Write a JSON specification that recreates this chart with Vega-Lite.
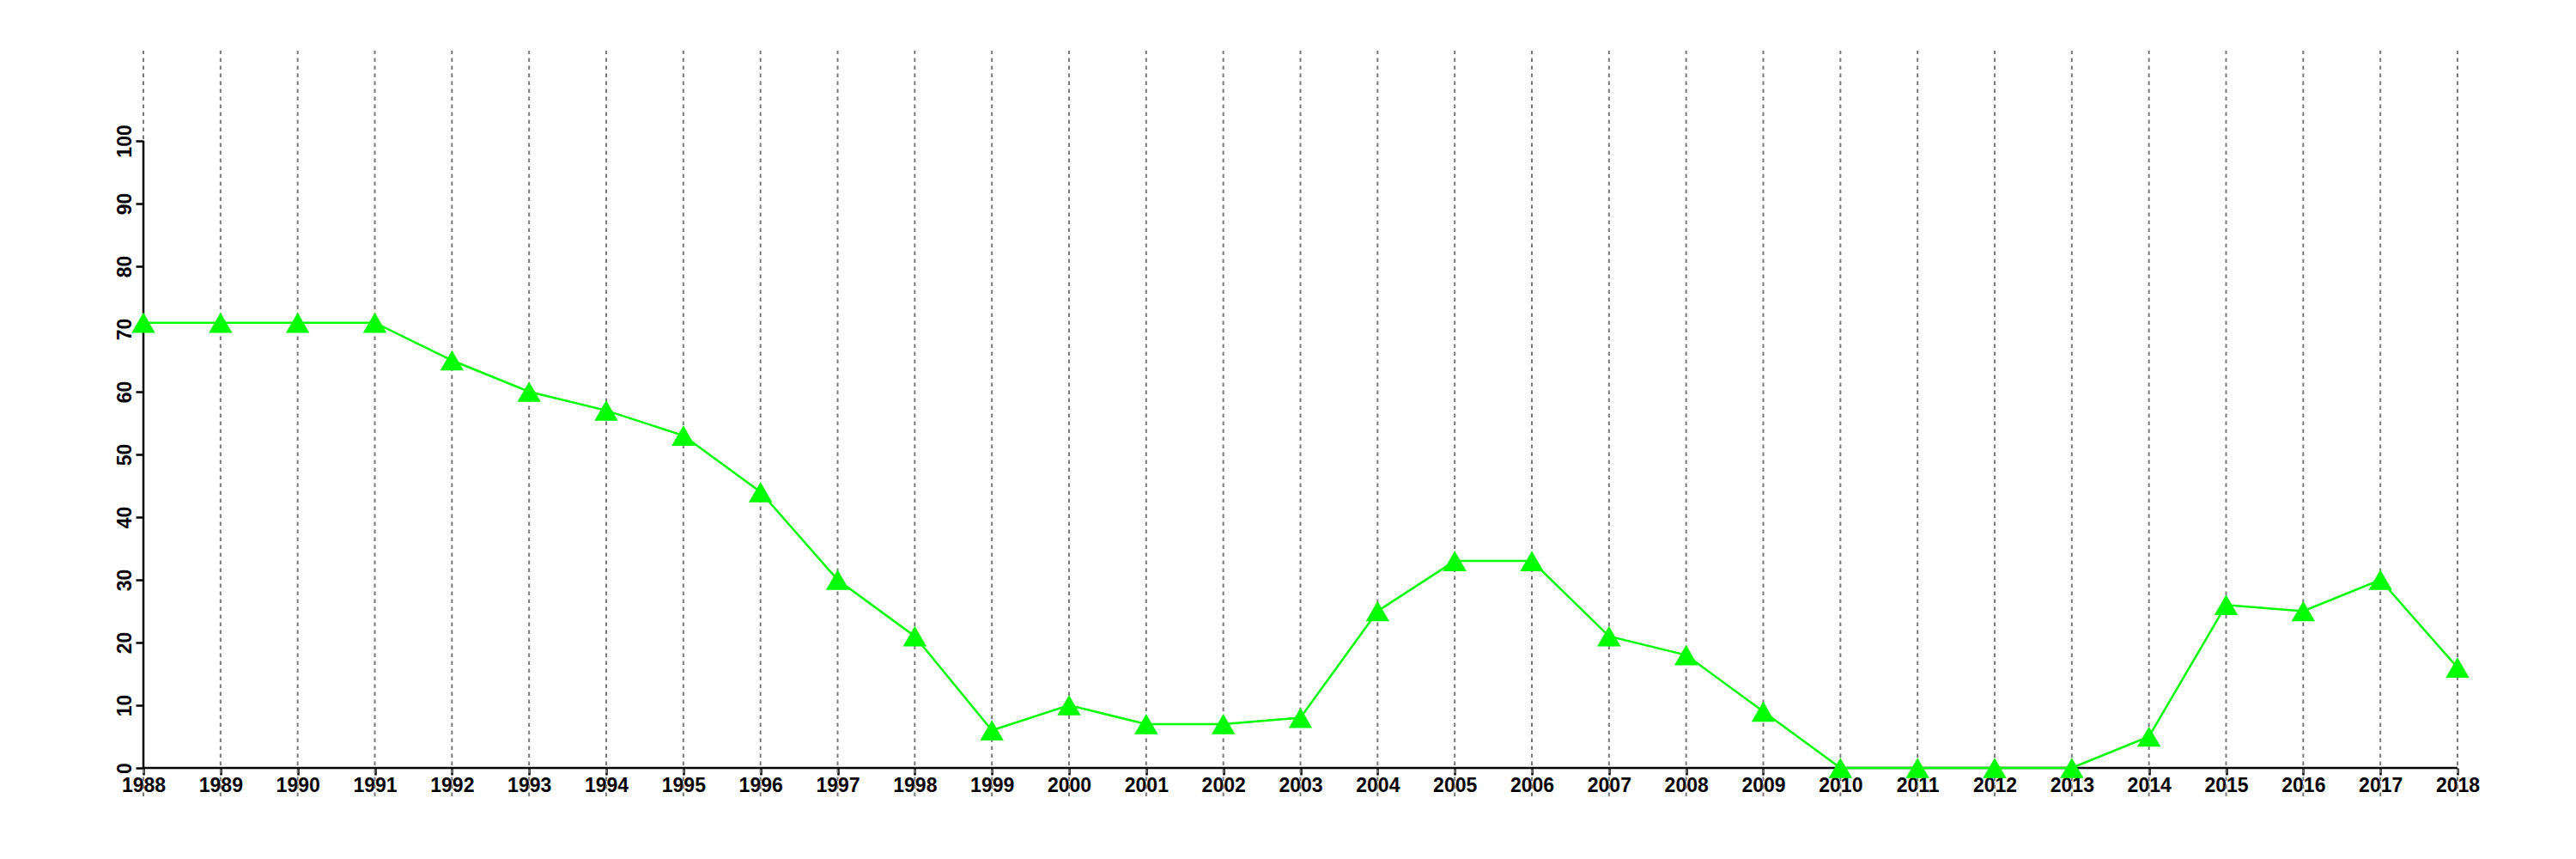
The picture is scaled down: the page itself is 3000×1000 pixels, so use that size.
{
  "$schema": "https://vega.github.io/schema/vega-lite/v6.json",
  "width": 2695,
  "height": 868,
  "autosize": {"type": "none"},
  "padding": {"left": 167, "top": 59, "right": 138, "bottom": 73},
  "background": "white",
  "config": {
    "view": {"stroke": null},
    "axis": {
      "labelFont": "Liberation Sans",
      "labelFontWeight": "bold",
      "labelFontSize": 23,
      "labelColor": "black",
      "tickColor": "black",
      "tickWidth": 2.5,
      "grid": false,
      "domain": false,
      "title": null
    }
  },
  "data": {
    "values": [
      {"year": 1988, "value": 71},
      {"year": 1989, "value": 71},
      {"year": 1990, "value": 71},
      {"year": 1991, "value": 71},
      {"year": 1992, "value": 65},
      {"year": 1993, "value": 60},
      {"year": 1994, "value": 57},
      {"year": 1995, "value": 53},
      {"year": 1996, "value": 44},
      {"year": 1997, "value": 30},
      {"year": 1998, "value": 21},
      {"year": 1999, "value": 6},
      {"year": 2000, "value": 10},
      {"year": 2001, "value": 7},
      {"year": 2002, "value": 7},
      {"year": 2003, "value": 8},
      {"year": 2004, "value": 25},
      {"year": 2005, "value": 33},
      {"year": 2006, "value": 33},
      {"year": 2007, "value": 21},
      {"year": 2008, "value": 18},
      {"year": 2009, "value": 9},
      {"year": 2010, "value": 0},
      {"year": 2011, "value": 0},
      {"year": 2012, "value": 0},
      {"year": 2013, "value": 0},
      {"year": 2014, "value": 5},
      {"year": 2015, "value": 26},
      {"year": 2016, "value": 25},
      {"year": 2017, "value": 30},
      {"year": 2018, "value": 16}
    ]
  },
  "layer": [
    {
      "mark": {"type": "rule", "color": "#7a7a7a", "strokeWidth": 2, "strokeDash": [4.5, 4.5]},
      "encoding": {
        "x": {
          "field": "year",
          "type": "quantitative",
          "scale": {"domain": [1988, 2018], "nice": false, "zero": false},
          "axis": {
            "values": [1988,1989,1990,1991,1992,1993,1994,1995,1996,1997,1998,1999,2000,2001,2002,2003,2004,2005,2006,2007,2008,2009,2010,2011,2012,2013,2014,2015,2016,2017,2018],
            "format": "d",
            "offset": -33,
            "tickSize": 8,
            "labelPadding": 1,
            "labelFlush": false,
            "labelOverlap": false
          }
        },
        "y": {
          "datum": -4.52,
          "type": "quantitative",
          "scale": {"domain": [-4.52, 114.38], "nice": false, "zero": false},
          "axis": {
            "values": [0,10,20,30,40,50,60,70,80,90,100],
            "labelAngle": 270,
            "labelAlign": "center",
            "labelBaseline": "bottom",
            "tickSize": 9,
            "labelPadding": 1,
            "labelOverlap": false
          }
        },
        "y2": {"datum": 114.38}
      }
    },
    {
      "data": {"values": [{}]},
      "mark": {"type": "rule", "color": "black", "strokeWidth": 2.5},
      "encoding": {
        "x": {"datum": 1988, "type": "quantitative"},
        "x2": {"datum": 2018},
        "y": {"datum": 0, "type": "quantitative"}
      }
    },
    {
      "data": {"values": [{}]},
      "mark": {"type": "rule", "color": "black", "strokeWidth": 2.5},
      "encoding": {
        "x": {"datum": 1988, "type": "quantitative"},
        "y": {"datum": 0, "type": "quantitative"},
        "y2": {"datum": 100}
      }
    },
    {
      "mark": {"type": "line", "color": "#00ff00", "strokeWidth": 2.5},
      "encoding": {
        "x": {"field": "year", "type": "quantitative"},
        "y": {"field": "value", "type": "quantitative"}
      }
    },
    {
      "mark": {"type": "point", "shape": "triangle-up", "filled": true, "color": "#00ff00", "size": 750, "opacity": 1},
      "encoding": {
        "x": {"field": "year", "type": "quantitative"},
        "y": {"field": "value", "type": "quantitative"}
      }
    }
  ]
}
